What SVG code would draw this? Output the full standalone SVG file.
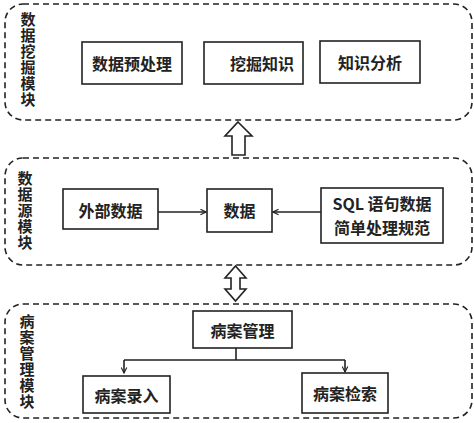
<svg xmlns="http://www.w3.org/2000/svg" width="474" height="423" viewBox="0 0 474 423">
<defs>
<style>
.mod{fill:none;stroke:#222;stroke-width:1.6;stroke-dasharray:6 4}
.box{fill:#fff;stroke:#222;stroke-width:1.6}
.t{font-family:"Noto Sans CJK SC","Liberation Sans",sans-serif;font-size:16px;font-weight:bold;fill:#222;text-anchor:middle;dominant-baseline:central}
.v{font-family:"Noto Sans CJK SC",sans-serif;font-size:15px;font-weight:bold;fill:#222;writing-mode:vertical-rl;text-anchor:start;letter-spacing:1px}
.ln{fill:none;stroke:#222;stroke-width:1.6}
.hollow{fill:#fff;stroke:#222;stroke-width:1.6;stroke-linejoin:miter}
</style>
<marker id="ah" viewBox="0 0 10 10" refX="9" refY="5" markerWidth="7" markerHeight="7" orient="auto" markerUnits="userSpaceOnUse">
<path d="M1,1 L9,5 L1,9" fill="none" stroke="#222" stroke-width="1.6"/>
</marker>
</defs>
<rect width="474" height="423" fill="#fff"/>

<g id="module-mining">
<rect class="mod" x="5" y="4" width="467" height="116" rx="18"/>
<text class="v" x="28" y="12">数据挖掘模块</text>
</g>
<g id="node-preprocess"><rect class="box" x="82" y="42" width="100" height="42"/><text class="t" x="132" y="63">数据预处理</text></g>
<g id="node-mine"><rect class="box" x="204" y="42" width="99" height="42"/><text class="t" x="262" y="63">挖掘知识</text></g>
<g id="node-analysis"><rect class="box" x="320" y="41" width="100" height="42"/><text class="t" x="370" y="62">知识分析</text></g>

<g id="module-source">
<rect class="mod" x="5" y="158" width="467" height="107" rx="18"/>
<text class="v" x="25" y="171">数据源模块</text>
</g>
<g id="node-external"><rect class="box" x="63" y="189" width="95" height="40"/><text class="t" x="110.5" y="210">外部数据</text></g>
<g id="node-data"><rect class="box" x="207" y="189" width="65" height="43"/><text class="t" x="239.5" y="210">数据</text></g>
<g id="node-sql"><rect class="box" x="321" y="188" width="122" height="55"/><text class="t" x="382" y="203">SQL 语句数据</text><text class="t" x="382" y="227">简单处理规范</text></g>

<g id="module-case">
<rect class="mod" x="5" y="304" width="467" height="114" rx="18"/>
<text class="v" x="27" y="314">病案管理模块</text>
</g>
<g id="node-casemgmt"><rect class="box" x="193" y="311" width="99" height="37"/><text class="t" x="242.5" y="330">病案管理</text></g>
<g id="node-caseentry"><rect class="box" x="83" y="376" width="87" height="37"/><text class="t" x="126.5" y="395">病案录入</text></g>
<g id="node-casesearch"><rect class="box" x="302" y="373" width="86" height="40"/><text class="t" x="345" y="393">病案检索</text></g>

<g id="connectors">
<path class="hollow" d="M238,122 L252,136 L245,136 L245,155 L232,155 L232,136 L225,136 Z"/>
<path class="hollow" d="M235.5,266 L246,278 L240,278 L240,289 L246,289 L235.5,301 L225,289 L231,289 L231,278 L225,278 Z"/>
<line class="ln" x1="158" y1="212" x2="206" y2="212" marker-end="url(#ah)"/>
<line class="ln" x1="321" y1="212" x2="273" y2="212" marker-end="url(#ah)"/>
<path class="ln" d="M236,348 L236,360 M124,360 L345,360"/>
<line class="ln" x1="124" y1="360" x2="124" y2="373" marker-end="url(#ah)"/>
<line class="ln" x1="345" y1="360" x2="345" y2="372" marker-end="url(#ah)"/>
</g>
</svg>
